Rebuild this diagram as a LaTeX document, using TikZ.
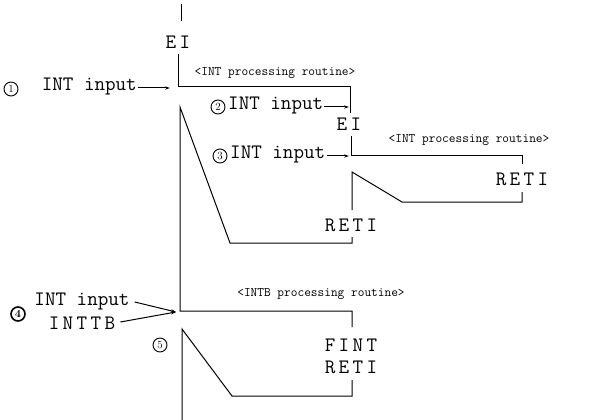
\documentclass[tikz,border=0pt]{standalone}
\usepackage{fontspec}
\usetikzlibrary{arrows.meta}
\newcommand\hs{\hspace{3.4pt}}
\tikzset{
  big/.style={font=\ttfamily\fontsize{20.5}{22}\selectfont, inner sep=0pt},
  small/.style={font=\ttfamily\fontsize{13}{15}\selectfont, inner sep=0pt},
  circnum/.style={circle, draw, line width=0.9pt, minimum size=14pt, inner sep=0pt,
    font=\fontsize{11}{11}\selectfont},
  ln/.style={line width=1pt, line join=miter},
  arr/.style={line width=1pt, -{Stealth[length=5pt,width=3.2pt]}}
}
\begin{document}
\begin{tikzpicture}[x=1pt,y=-1pt]
\useasboundingbox (0,0) rectangle (590,420);
% ---- coordinates ----
\coordinate (t0) at (181,4);
\coordinate (t1) at (181,21);
\coordinate (a0) at (178,54);
\coordinate (a1) at (178,87);
\coordinate (a2) at (350,87);
\coordinate (a3) at (350,113);
\coordinate (b0) at (351,136);
\coordinate (b1) at (351,156);
\coordinate (b2) at (522,156);
\coordinate (b3) at (522,164);
\coordinate (c0) at (522,192);
\coordinate (c1) at (522,202);
\coordinate (c2) at (402,202);
\coordinate (c3) at (352,172);
\coordinate (c4) at (352,210);
\coordinate (d0) at (352,237);
\coordinate (d1) at (352,243);
\coordinate (d2) at (230,243);
\coordinate (d3) at (180,107);
\coordinate (d4) at (180,311);
\coordinate (d5) at (352,311);
\coordinate (d6) at (352,327);
\coordinate (e0) at (352,380);
\coordinate (e1) at (352,396);
\coordinate (e2) at (232,396);
\coordinate (e3) at (182,329);
\coordinate (e4) at (182,420);
% ---- lines ----
\draw[ln] (t0) -- (t1);
\draw[ln] (a0) -- (a1) -- (a2) -- (a3);
\draw[ln] (b0) -- (b1) -- (b2) -- (b3);
\draw[ln] (c0) -- (c1) -- (c2) -- (c3) -- (c4);
\draw[ln] (d0) -- (d1) -- (d2) -- (d3) -- (d4) -- (d5) -- (d6);
\draw[ln] (e0) -- (e1) -- (e2) -- (e3) -- (e4);
% ---- texts ----
\node[big] (ei1) at (178,42) {E\hs I};
\node[small] (r1) at (275,73) {<INT processing routine>};
\node[circnum] (n1) at (11,89) {1};
\node[big, anchor=east] (in1) at (137,87) {INT input};
\coordinate (in1e) at (170,88);
\draw[arr] (in1.east) ++(1,1) -- (in1e);
\node[circnum] (n2) at (218,107) {2};
\node[big, anchor=west] (in2) at (228,106) {INT input};
\coordinate (in2e) at (349,107);
\draw[arr] (in2.east) ++(1,1) -- (in2e);
\node[big] (ei2) at (349,124) {E\hs I};
\node[small] (r2) at (469,140) {<INT processing routine>};
\node[circnum] (n3) at (220,156) {3};
\node[big, anchor=west] (in3) at (230,155) {INT input};
\coordinate (in3e) at (349,156);
\draw[arr] (in3.east) ++(2,1) -- (in3e);
\node[big] (reti1) at (522,179) {R\hs E\hs T\hs I};
\node[big] (reti2) at (351,225) {R\hs E\hs T\hs I};
\node[small] (r3) at (321,294) {<INTB processing routine>};
\node[circnum, line width=1.6pt, font=\bfseries\fontsize{11}{11}\selectfont] (n4) at (18,314) {4};
\node[big] (in4) at (82,302) {INT input};
\node[big] (inttb) at (82,323) {I\hs N\hs T\hs T\hs B};
\coordinate (m4) at (176,312);
\draw[arr] (in4.east) ++(5,0) -- (m4);
\draw[arr] (inttb.east) ++(5,-1) -- (m4);
\node[circnum] (n5) at (160,345) {5};
\node[big] (fint) at (351,345) {F\hs I\hs N\hs T};
\node[big] (reti3) at (351,367) {R\hs E\hs T\hs I};
\end{tikzpicture}
\end{document}
